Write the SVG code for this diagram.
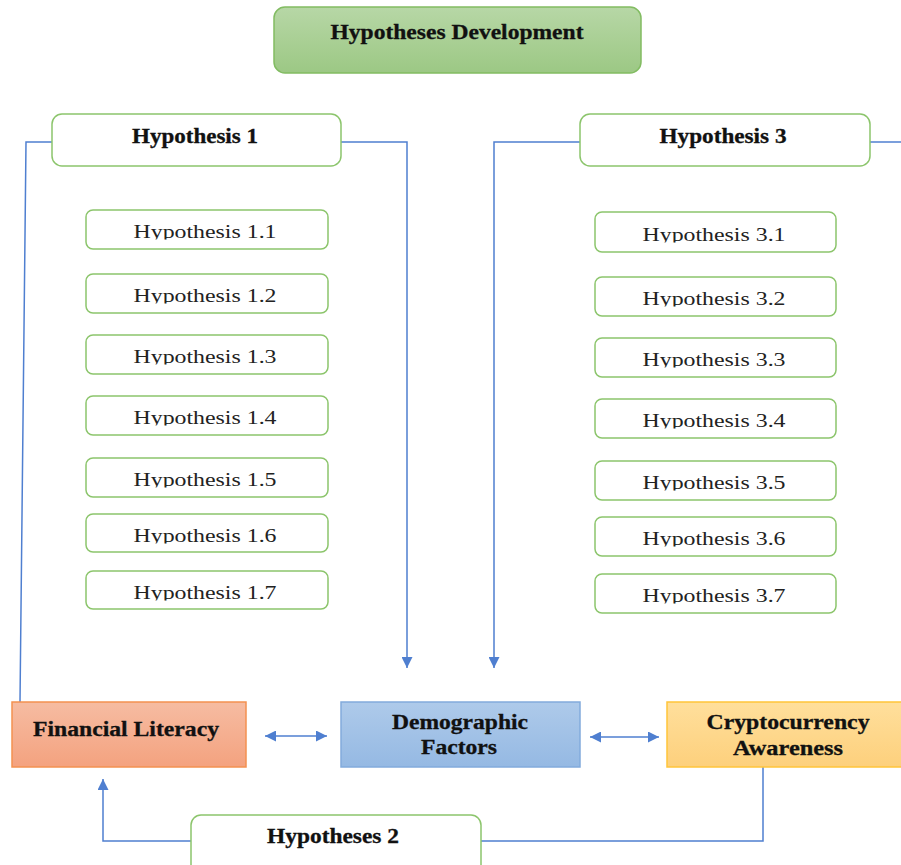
<svg xmlns="http://www.w3.org/2000/svg" width="901" height="865" viewBox="0 0 901 865">
<style>
.main{fill:#fff;stroke:#8cc56c;stroke-width:1.5}
.sub{fill:#fff;stroke:#8cc56c;stroke-width:1.5}
.tb{font-family:"Liberation Serif","Times New Roman",serif;font-weight:bold;font-size:20px;fill:#111;stroke:#111;stroke-width:0.3;text-anchor:middle}
.tr{font-family:"Liberation Serif","Times New Roman",serif;font-size:19px;fill:#222;text-anchor:middle}
.con{fill:none;stroke:#4f7fd0;stroke-width:1.5}
</style>
<defs>
<linearGradient id="gGreen" x1="0" y1="0" x2="0" y2="1"><stop offset="0" stop-color="#b7d7a6"/><stop offset="1" stop-color="#9cc884"/></linearGradient>
<linearGradient id="gOrange" x1="0" y1="0" x2="0" y2="1"><stop offset="0" stop-color="#f6bca2"/><stop offset="1" stop-color="#f4a27f"/></linearGradient>
<linearGradient id="gBlue" x1="0" y1="0" x2="0" y2="1"><stop offset="0" stop-color="#aecaea"/><stop offset="1" stop-color="#95b9e3"/></linearGradient>
<linearGradient id="gYellow" x1="0" y1="0" x2="0" y2="1"><stop offset="0" stop-color="#ffdf9c"/><stop offset="1" stop-color="#fdd07c"/></linearGradient>
<clipPath id="cut" clipPathUnits="objectBoundingBox"><rect x="-0.1" y="0" width="1.2" height="0.88"/></clipPath>
<marker id="arrB" viewBox="0 0 10 10" refX="10" refY="5" markerWidth="11" markerHeight="11" orient="auto-start-reverse" markerUnits="userSpaceOnUse"><path d="M0,0 L10,5 L0,10 z" fill="#4f7fd0"/></marker>
</defs>

<g id="connectors">
<path class="con" d="M52,142 L26,142 L20,702"/>
<path class="con" d="M341,142 L407,142 L407,668" marker-end="url(#arrB)"/>
<path class="con" d="M580,142 L494,142 L494,668" marker-end="url(#arrB)"/>
<path class="con" d="M870,142 L901,142"/>
<path class="con" d="M265,736 L327,736" marker-start="url(#arrB)" marker-end="url(#arrB)"/>
<path class="con" d="M590,737 L659,737" marker-start="url(#arrB)" marker-end="url(#arrB)"/>
<path class="con" d="M191,841 L103,841 L103,779" marker-end="url(#arrB)"/>
<path class="con" d="M481,841 L763,841 L763,767"/>
</g>

<g id="title">
<rect x="274" y="7" width="367" height="66" rx="11" fill="url(#gGreen)" stroke="#82bc62" stroke-width="1.5"/>
<text class="tb" x="457" y="39" textLength="253" lengthAdjust="spacingAndGlyphs">Hypotheses Development</text>
</g>

<g id="h1">
<rect class="main" x="52" y="114" width="289" height="52" rx="10"/>
<text class="tb" x="195" y="143" textLength="126" lengthAdjust="spacingAndGlyphs">Hypothesis 1</text>
</g>
<g id="h3">
<rect class="main" x="580" y="114" width="290" height="52" rx="10"/>
<text class="tb" x="723" y="143" textLength="127" lengthAdjust="spacingAndGlyphs">Hypothesis 3</text>
</g>

<g id="h1_1"><rect class="sub" x="86" y="210" width="242" height="39" rx="7"/><text class="tr" clip-path="url(#cut)" x="205" y="238" textLength="143" lengthAdjust="spacingAndGlyphs">Hypothesis 1.1</text></g>
<g id="h1_2"><rect class="sub" x="86" y="274" width="242" height="39" rx="7"/><text class="tr" clip-path="url(#cut)" x="205" y="302" textLength="143" lengthAdjust="spacingAndGlyphs">Hypothesis 1.2</text></g>
<g id="h1_3"><rect class="sub" x="86" y="335" width="242" height="39" rx="7"/><text class="tr" clip-path="url(#cut)" x="205" y="363" textLength="143" lengthAdjust="spacingAndGlyphs">Hypothesis 1.3</text></g>
<g id="h1_4"><rect class="sub" x="86" y="396" width="242" height="39" rx="7"/><text class="tr" clip-path="url(#cut)" x="205" y="424" textLength="143" lengthAdjust="spacingAndGlyphs">Hypothesis 1.4</text></g>
<g id="h1_5"><rect class="sub" x="86" y="458" width="242" height="39" rx="7"/><text class="tr" clip-path="url(#cut)" x="205" y="486" textLength="143" lengthAdjust="spacingAndGlyphs">Hypothesis 1.5</text></g>
<g id="h1_6"><rect class="sub" x="86" y="514" width="242" height="38" rx="7"/><text class="tr" clip-path="url(#cut)" x="205" y="542" textLength="143" lengthAdjust="spacingAndGlyphs">Hypothesis 1.6</text></g>
<g id="h1_7"><rect class="sub" x="86" y="571" width="242" height="38" rx="7"/><text class="tr" clip-path="url(#cut)" x="205" y="599" textLength="143" lengthAdjust="spacingAndGlyphs">Hypothesis 1.7</text></g>

<g id="h3_1"><rect class="sub" x="595" y="212" width="241" height="40" rx="7"/><text class="tr" clip-path="url(#cut)" x="714" y="241" textLength="143" lengthAdjust="spacingAndGlyphs">Hypothesis 3.1</text></g>
<g id="h3_2"><rect class="sub" x="595" y="277" width="241" height="39" rx="7"/><text class="tr" clip-path="url(#cut)" x="714" y="305" textLength="143" lengthAdjust="spacingAndGlyphs">Hypothesis 3.2</text></g>
<g id="h3_3"><rect class="sub" x="595" y="338" width="241" height="39" rx="7"/><text class="tr" clip-path="url(#cut)" x="714" y="366" textLength="143" lengthAdjust="spacingAndGlyphs">Hypothesis 3.3</text></g>
<g id="h3_4"><rect class="sub" x="595" y="399" width="241" height="39" rx="7"/><text class="tr" clip-path="url(#cut)" x="714" y="427" textLength="143" lengthAdjust="spacingAndGlyphs">Hypothesis 3.4</text></g>
<g id="h3_5"><rect class="sub" x="595" y="461" width="241" height="39" rx="7"/><text class="tr" clip-path="url(#cut)" x="714" y="489" textLength="143" lengthAdjust="spacingAndGlyphs">Hypothesis 3.5</text></g>
<g id="h3_6"><rect class="sub" x="595" y="517" width="241" height="39" rx="7"/><text class="tr" clip-path="url(#cut)" x="714" y="545" textLength="143" lengthAdjust="spacingAndGlyphs">Hypothesis 3.6</text></g>
<g id="h3_7"><rect class="sub" x="595" y="574" width="241" height="39" rx="7"/><text class="tr" clip-path="url(#cut)" x="714" y="602" textLength="143" lengthAdjust="spacingAndGlyphs">Hypothesis 3.7</text></g>

<g id="financial_literacy">
<rect x="12" y="702" width="234" height="65" fill="url(#gOrange)" stroke="#f39150" stroke-width="1.5"/>
<text class="tb" x="126" y="736" textLength="186" lengthAdjust="spacingAndGlyphs">Financial Literacy</text>
</g>
<g id="demographic_factors">
<rect x="341" y="702" width="239" height="65" fill="url(#gBlue)" stroke="#82abdc" stroke-width="1.5"/>
<text class="tb" x="460" y="729" textLength="136" lengthAdjust="spacingAndGlyphs">Demographic</text>
<text class="tb" x="459" y="754" textLength="76" lengthAdjust="spacingAndGlyphs">Factors</text>
</g>
<g id="crypto_awareness">
<rect x="667" y="702" width="240" height="65" fill="url(#gYellow)" stroke="#ffc53a" stroke-width="1.5"/>
<text class="tb" x="788" y="729" textLength="163" lengthAdjust="spacingAndGlyphs">Cryptocurrency</text>
<text class="tb" x="788" y="755" textLength="110" lengthAdjust="spacingAndGlyphs">Awareness</text>
</g>
<g id="h2">
<rect class="main" x="191" y="815" width="290" height="60" rx="10"/>
<text class="tb" x="333" y="843" textLength="132" lengthAdjust="spacingAndGlyphs">Hypotheses 2</text>
</g>
</svg>
